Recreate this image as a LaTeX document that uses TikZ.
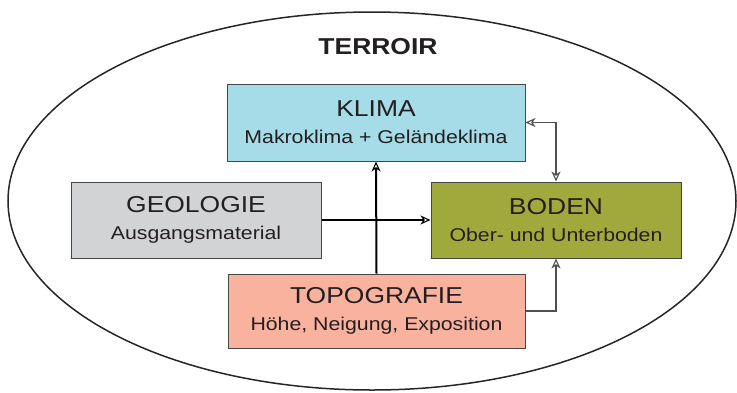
\documentclass[tikz,border=0pt]{standalone}
\usepackage{fontspec}
\setmainfont{Liberation Sans}[FakeStretch=1.15]
\usetikzlibrary{arrows.meta}
\definecolor{klimac}{RGB}{166,219,232}
\definecolor{geoc}{RGB}{210,211,213}
\definecolor{bodenc}{RGB}{160,170,60}
\definecolor{topoc}{RGB}{248,178,158}
\definecolor{edgec}{RGB}{70,70,70}
\definecolor{textc}{RGB}{35,31,32}
\definecolor{linec}{RGB}{80,80,80}
\tikzset{
  box/.style={draw=edgec, line width=1pt, minimum width=#1, minimum height=76pt,
    align=center, text=textc, inner sep=0pt, font=\fontsize{18.5}{27}\selectfont},
  openhead/.tip={Stealth[open, length=10pt, width=9pt, inset=3pt, fill=white, line width=1.1pt]},
  tip/.style={-openhead},
  thickconn/.style={tip, line width=2pt, draw=black},
  thinconn/.style={line width=1.4pt, draw=linec}
}
\newcommand{\boxtitle}[1]{{\fontsize{23}{27}\selectfont #1}}
\begin{document}
\begin{tikzpicture}[x=1pt,y=-1pt]
\useasboundingbox (0,0) rectangle (737,392);
\draw[line width=1.5pt, draw=black!85] (372,201) ellipse [x radius=364, y radius=189];
\node[font=\fontsize{23}{27}\selectfont\bfseries, text=textc] (terroir) at (378,47) {TERROIR};
\node[box=298pt, fill=klimac, minimum height=77pt] (klima) at (376,122.5) {\boxtitle{KLIMA}\\Makroklima + Geländeklima};
\node[box=250pt, fill=geoc] (geo) at (196,220) {\boxtitle{GEOLOGIE}\\Ausgangsmaterial};
\node[box=250pt, fill=bodenc] (boden) at (556,220) {\boxtitle{BODEN}\\Ober- und Unterboden};
\node[box=297pt, fill=topoc, minimum height=74pt] (topo) at (376.5,311) {\boxtitle{TOPOGRAFIE}\\Höhe, Neigung, Exposition};
\draw[thickconn] (geo.east) -- (boden.west);
\draw[thickconn] (topo.north) -- (klima.south);
\draw[thinconn, openhead-openhead] (klima.east) -| (boden.north);
\draw[thinconn, tip] (topo.east) -| (boden.south);
\end{tikzpicture}
\end{document}
